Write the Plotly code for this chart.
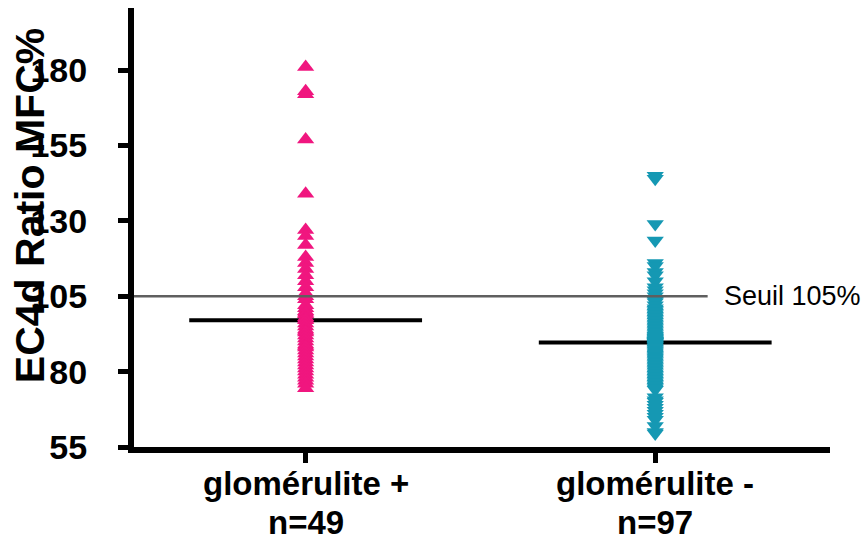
import numpy as np
import plotly.graph_objects as go

# Groups and per-patient EC4d ratio values (MFC %)
groups = ["glomérulite +", "glomérulite -"]
counts_text = ["n=49", "n=97"]

glom_pos = [
    181, 173, 172, 157, 139, 127, 125, 122, 118, 116,
    114, 112, 110, 108, 106, 105, 104, 102, 101, 100,
    99.5, 99, 98, 97.5, 97, 96, 95, 94, 93.5, 93,
    92, 91, 90, 89, 88.5, 88, 87, 86, 85, 84,
    83, 82, 81, 80, 79, 78, 77, 76, 74.5,
]

glom_neg = [
    145, 144, 129, 123.5, 116, 115, 113, 112, 110, 108,
    107, 106, 105, 104, 103.5, 103, 102, 101, 100.5, 100,
    99.5, 99, 98.5, 98, 97.5, 97, 96.5, 96, 95.5, 95,
    94.5, 94, 93.5, 93, 92.5, 92, 91.8, 91.5, 91.2, 91,
    90.8, 90.5, 90.3, 90.2, 90.1, 90, 89.9, 89.8, 89.7, 89.5,
    89.2, 89, 88.7, 88.4, 88, 87.6, 87.2, 86.8, 86.4, 86,
    85.6, 85.2, 84.8, 84.4, 84, 83.5, 83, 82.5, 82, 81.5,
    81, 80.5, 80, 79.5, 79, 78.5, 78, 77.5, 77, 76.5,
    76, 75.5, 75, 74.5, 74, 71.5, 70.5, 70, 69, 68,
    67, 66, 65, 64, 62, 60, 59.5,
]

threshold = 105
y_ticks = [55, 80, 105, 130, 155, 180]

PINK = "#F0167F"
TEAL = "#1598B3"
FONT = "Liberation Sans, Arial, sans-serif"

series = [glom_pos, glom_neg]
colors = [PINK, TEAL]
symbols = ["triangle-up", "triangle-down"]

fig = go.Figure()

# Median bars (drawn beneath the points)
for i, vals in enumerate(series):
    med = float(np.median(vals))
    fig.add_trace(go.Scatter(
        x=[i - 0.333, i + 0.333], y=[med, med], mode="lines",
        line=dict(color="black", width=4), hoverinfo="skip", showlegend=False,
    ))

# Individual values
for i, vals in enumerate(series):
    fig.add_trace(go.Scatter(
        x=[i] * len(vals), y=vals, mode="markers",
        marker=dict(symbol=symbols[i], size=15, color=colors[i], line=dict(width=0)),
        showlegend=False,
    ))

# Threshold line
fig.add_shape(
    type="line", xref="x", yref="y", x0=-0.491, x1=1.15, y0=threshold, y1=threshold,
    line=dict(color="#5f5f5f", width=2.5), layer="above",
)
fig.add_annotation(
    x=1.15, y=threshold, xref="x", yref="y", text=f"Seuil {threshold}%",
    showarrow=False, xanchor="left", yanchor="middle", xshift=14,
    font=dict(family=FONT, size=27, color="black"),
)

# Category labels and sample sizes under the axis
for i, (g, t) in enumerate(zip(groups, counts_text)):
    for text, shift in ((g, -36), (t, -75)):
        fig.add_annotation(
            x=i, y=0, xref="x", yref="paper", text=f"<b>{text}</b>",
            showarrow=False, xanchor="center", yanchor="middle", yshift=shift,
            font=dict(family=FONT, size=33, color="black"), borderpad=0,
        )

# Y axis title
fig.add_annotation(
    x=-0.15, y=0.55, xref="paper", yref="paper", text="<b>EC4d Ratio MFC%</b>",
    textangle=-90, showarrow=False, xanchor="center", yanchor="middle",
    font=dict(family=FONT, size=41, color="black"),
)

fig.update_layout(
    width=868, height=541,
    margin=dict(l=134, r=38, t=8, b=94),
    plot_bgcolor="white", paper_bgcolor="white",
    font=dict(family=FONT, color="black"),
    xaxis=dict(
        range=[-0.491, 1.5], tickvals=[0, 1], ticktext=["", ""],
        showline=True, linewidth=6, linecolor="black",
        ticks="outside", ticklen=10, tickwidth=5, tickcolor="black",
        showgrid=False, zeroline=False,
    ),
    yaxis=dict(
        range=[55, 200.6], tickvals=y_ticks,
        ticktext=[f"<b>{v}</b>" for v in y_ticks],
        showline=True, linewidth=6, linecolor="black",
        ticks="outside", ticklen=10, tickwidth=5, tickcolor="black",
        tickfont=dict(family=FONT, size=34, color="black"),
        showgrid=False, zeroline=False, ticklabelstandoff=24,
    ),
)

fig.write_html("out.html")
